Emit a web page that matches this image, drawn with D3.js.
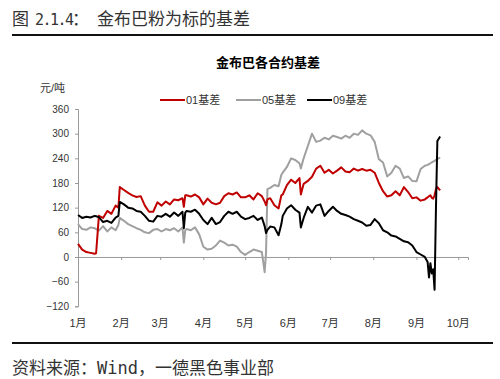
<!DOCTYPE html>
<html><head><meta charset="utf-8">
<script src="https://cdn.jsdelivr.net/npm/d3@7/dist/d3.min.js"></script>
<style>body{margin:0;background:#fff}svg{display:block}</style>
</head><body>
<svg id="c" width="500" height="379"></svg>
<script>
// day offsets from 2019-01-01
const days = [0,3,6,9,12,13,15,18,21,24,27,29,30,33,36,39,42,45,48,51,54,57,60,63,66,69,72,75,76,77,78,81,84,87,90,93,96,99,102,105,108,111,114,117,120,123,126,129,132,134,135,136,138,141,144,146,147,150,153,156,159,160,162,165,168,171,174,177,180,183,186,189,192,195,198,201,204,207,210,213,216,219,222,225,228,231,234,237,240,243,246,249,251,252,253,254,255,256,257,258,260];
const basis01 = [32,18,12,10,8,9,100,95,112,105,125,120,170,163,156,150,146,148,125,110,110,133,125,135,128,140,138,143,122,150,150,147,152,145,128,142,132,128,132,148,155,152,157,145,145,150,140,155,148,135,126,140,143,126,118,150,152,175,188,180,192,152,178,185,195,215,222,205,212,203,210,218,208,206,215,210,214,210,212,205,180,160,147,150,160,150,170,158,143,145,137,140,145,148,150,144,142,150,165,170,162];
const basis05 = [80,68,66,72,70,68,64,75,62,72,65,78,95,88,80,75,70,66,60,58,66,68,62,68,65,70,62,72,35,65,68,65,72,55,25,18,20,28,40,35,28,30,25,12,5,12,18,15,12,-37,10,165,168,175,172,200,205,219,240,236,228,215,240,270,300,280,283,290,286,295,292,288,295,290,300,297,308,300,296,280,238,230,196,205,222,215,192,196,185,184,214,222,224,226,228,230,232,234,236,238,242];
const basis09 = [102,95,98,96,100,99,97,85,88,83,96,100,134,128,120,118,112,110,100,88,86,100,98,105,98,108,100,110,70,108,112,110,115,105,90,80,95,80,85,100,110,105,110,98,92,95,100,90,96,75,58,66,74,72,53,80,100,118,126,115,108,72,95,122,108,125,128,100,112,122,112,105,102,98,92,88,84,76,78,92,82,65,60,52,50,44,38,36,28,12,6,0,-12,-50,-15,-40,-30,-80,120,282,293];
const monthLabels = ["1月","2月","3月","4月","5月","6月","7月","8月","9月","10月"];
const yTicks = [-120,-60,0,60,120,180,240,300,360];
const seriesNames = ["01基差","05基差","09基差"];
const seriesColors = ["#C00000","#A0A0A0","#000000"];

const base = new Date(2019,0,1);
const dates = days.map(d => d3.timeDay.offset(base, d));
const series = [basis01, basis05, basis09].map((vals,i) => ({
  name: seriesNames[i], color: seriesColors[i],
  pts: vals.map((v,j) => ({date: dates[j], v}))
}));

const svg = d3.select("#c");
const cjk = "'Liberation Sans','Noto Sans CJK SC',sans-serif";

// header
const t = svg.append("text").attr("y",25).attr("font-size",17).attr("fill","#333")
  .attr("font-family","'Noto Sans CJK SC',sans-serif");
t.append("tspan").attr("x",12).text("图");
t.append("tspan").attr("x",35).attr("font-size",15).attr("font-family","'DejaVu Sans Mono',monospace").attr("letter-spacing",-1.5).text("2.1.4");
t.append("tspan").attr("x",72).text("：");
t.append("tspan").attr("x",97).text("金布巴粉为标的基差");
svg.append("line").attr("x1",12).attr("x2",493).attr("y1",35).attr("y2",35).attr("stroke","#111").attr("stroke-width",2);

svg.append("text").attr("x",268).attr("y",67).attr("text-anchor","middle")
  .attr("font-size",13).attr("font-weight","bold").attr("font-family","'Noto Sans CJK SC',sans-serif")
  .attr("fill","#000").text("金布巴各合约基差");

svg.append("text").attr("x",40).attr("y",92).attr("font-size",11).attr("font-family",cjk).attr("fill","#333").text("元/吨");

// scales
const x = d3.scaleTime().domain([base, new Date(2019,9,8)]).range([78,468]);
const y = d3.scaleLinear().domain([-120,360]).range([306.3,109]);

// y axis
const yAxis = svg.append("g").attr("transform","translate(78,0)")
  .call(d3.axisLeft(y).tickValues(yTicks).tickSize(3).tickPadding(6));
yAxis.select(".domain").attr("stroke","#999");
yAxis.selectAll(".tick line").attr("stroke","#999");
yAxis.selectAll("text").attr("font-size",10).attr("font-family",cjk).attr("fill","#333");

// x axis on zero line
const monthDates = d3.range(10).map(m => new Date(2019,m,1));
const xAxis = svg.append("g").attr("transform",`translate(0,${y(0)})`)
  .call(d3.axisBottom(x).tickValues(monthDates).tickSize(3).tickFormat((d,i)=>""));
xAxis.select(".domain").attr("stroke","#999");
xAxis.selectAll(".tick line").attr("stroke","#999");
svg.append("g").selectAll("text").data(monthDates).join("text")
  .attr("x",d=>x(d)).attr("y",327).attr("text-anchor","middle")
  .attr("font-size",11).attr("font-family",cjk).attr("fill","#333")
  .text((d,i)=>monthLabels[i]);

// lines
const line = d3.line().x(d=>x(d.date)).y(d=>y(d.v));
const order = [1,0,2];
svg.append("g").selectAll("path").data(order.map(i=>series[i])).join("path")
  .attr("d",d=>line(d.pts)).attr("fill","none").attr("stroke",d=>d.color)
  .attr("stroke-width",2).attr("stroke-linejoin","round");

// legend
const legX = [160,236,307];
const lg = svg.append("g").selectAll("g").data(series).join("g")
  .attr("transform",(d,i)=>`translate(${legX[i]},100)`);
lg.append("line").attr("x1",0).attr("x2",25).attr("stroke",d=>d.color).attr("stroke-width",2);
lg.append("text").attr("x",26).attr("y",4).attr("font-size",11).attr("font-family",cjk).attr("fill","#333").text(d=>d.name);

// footer
svg.append("line").attr("x1",12).attr("x2",493).attr("y1",343).attr("y2",343).attr("stroke","#111").attr("stroke-width",2);
const f = svg.append("text").attr("y",374).attr("font-size",17).attr("fill","#333")
  .attr("font-family","'DejaVu Sans Mono','Noto Sans CJK SC',monospace");
f.append("tspan").attr("x",12).text("资料来源：Wind，一德黑色事业部");
</script>
</body></html>
